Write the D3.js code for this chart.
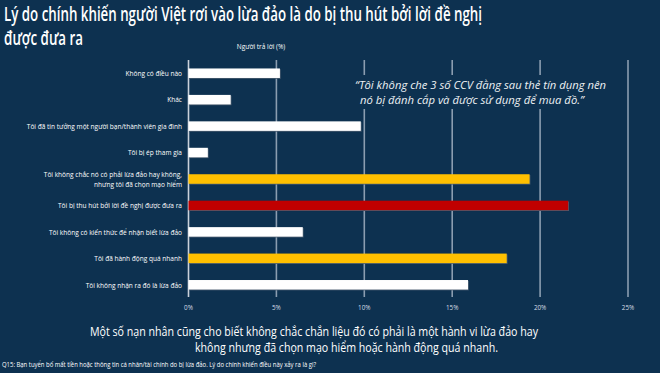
<!DOCTYPE html>
<html>
<head>
<meta charset="utf-8">
<script src="https://cdn.jsdelivr.net/npm/d3@7"></script>
<style>
  body { margin: 0; background: #0d3150; }
  svg { display: block; font-family: "Open Sans", sans-serif; }
</style>
</head>
<body>
<div id="chart"></div>
<script>
var categories = [
  "Không có điều nào",
  "Khác",
  "Tôi đã tin tưởng một người bạn/thành viên gia đình",
  "Tôi bị ép tham gia",
  "Tôi không chắc nó có phải lừa đảo hay không,|nhưng tôi đã chọn mạo hiểm",
  "Tôi bị thu hút bởi lời đề nghị được đưa ra",
  "Tôi không có kiến thức để nhận biết lừa đảo",
  "Tôi đã hành động quá nhanh",
  "Tôi không nhận ra đó là lừa đảo"
];
var values = [5.2, 2.4, 9.8, 1.1, 19.4, 21.6, 6.5, 18.1, 15.9];
var highlight = ["white", "white", "white", "white", "yellow", "red", "white", "yellow", "white"];
var ticks = [0, 5, 10, 15, 20, 25];

var title = ["Lý do chính khiến người Việt rơi vào lừa đảo là do bị thu hút bởi lời đề nghị", "được đưa ra"];
var axisTitle = "Người trả lời (%)";
var quote = ["“Tôi không che 3 số CCV đằng sau thẻ tín dụng nên", "nó bị đánh cắp và được sử dụng để mua đồ.”"];
var note = ["Một số nạn nhân cũng cho biết không chắc chắn liệu đó có phải là một hành vi lừa đảo hay", "không nhưng đã chọn mạo hiểm hoặc hành động quá nhanh."];
var footnote = "Q15: Bạn tuyển bố mất tiền hoặc thông tin cá nhân/tài chính do bị lừa đảo. Lý do chính khiến điều này xảy ra là gì?";

var colors = { white: "#ffffff", yellow: "#ffc000", red: "#c00000" };

var width = 660, height = 373;
var svg = d3.select("#chart").append("svg")
    .attr("width", width)
    .attr("height", height);

svg.append("rect").attr("width", width).attr("height", height).attr("fill", "#0d3150");

// squeeze text a bit so it reads like the narrow original font
function condense(sel, k) {
  sel.each(function() {
    var w = this.getComputedTextLength();
    d3.select(this).attr("textLength", w * k).attr("lengthAdjust", "spacingAndGlyphs");
  });
}
function fitTo(sel, w) {
  sel.attr("textLength", w).attr("lengthAdjust", "spacingAndGlyphs");
}

var x = d3.scaleLinear().domain([0, 25]).range([188.5, 628]);
var y = d3.scaleBand().domain(categories).range([60, 298]).paddingInner(0.64).paddingOuter(0.32);

// gridlines
svg.append("g").selectAll("line")
    .data(ticks)
    .enter().append("line")
    .attr("x1", function(d) { return x(d); })
    .attr("x2", function(d) { return x(d); })
    .attr("y1", 60)
    .attr("y2", 297)
    .attr("stroke", function(d) { return d === 0 ? "#c9d1da" : "#8b9db0"; })
    .attr("stroke-width", 1.6);

// tick labels
svg.append("g").selectAll("text")
    .data(ticks)
    .enter().append("text")
    .attr("x", function(d) { return x(d); })
    .attr("y", 310)
    .attr("text-anchor", "middle")
    .attr("fill", "#d6dde5")
    .attr("font-size", 7)
    .text(function(d) { return d + "%"; })
    .call(condense, 0.9);

// bars
var bars = svg.append("g");
bars.selectAll("rect.shadow")
    .data(categories)
    .enter().append("rect")
    .attr("class", "shadow")
    .attr("x", x(0) + 0.8)
    .attr("y", function(d) { return y(d) + 0.8; })
    .attr("width", function(d, i) { return x(values[i]) - x(0); })
    .attr("height", y.bandwidth())
    .attr("fill", "#4a5d70");
bars.selectAll("rect.bar")
    .data(categories)
    .enter().append("rect")
    .attr("class", "bar")
    .attr("x", x(0))
    .attr("y", function(d) { return y(d); })
    .attr("width", function(d, i) { return x(values[i]) - x(0); })
    .attr("height", y.bandwidth())
    .attr("fill", function(d, i) { return colors[highlight[i]]; });

// category labels
var labels = svg.append("g").selectAll("text")
    .data(categories)
    .enter().append("text")
    .attr("text-anchor", "end")
    .attr("fill", "#ffffff")
    .attr("font-size", 7.6)
    .attr("y", function(d) { return y(d) + y.bandwidth() / 2 + 2.8; });

labels.each(function(d) {
  var parts = d.split("|");
  var t = d3.select(this);
  parts.forEach(function(p, j) {
    t.append("tspan")
      .attr("x", 182)
      .attr("dy", j === 0 ? -(parts.length - 1) * 5 : 10)
      .text(p);
  });
});
labels.selectAll("tspan").call(condense, 0.86);

// axis title
svg.append("text")
    .attr("x", 261)
    .attr("y", 48.5)
    .attr("text-anchor", "middle")
    .attr("fill", "#ffffff")
    .attr("font-size", 7.4)
    .text(axisTitle)
    .call(condense, 0.88);

// title
svg.append("g").selectAll("text")
    .data(title)
    .enter().append("text")
    .attr("x", 4)
    .attr("y", function(d, i) { return 20.5 + i * 24.5; })
    .attr("fill", "#ffffff")
    .attr("font-size", 19)
    .attr("font-weight", 600)
    .text(function(d) { return d; })
    .each(function(d, i) { d3.select(this).call(fitTo, i === 0 ? 478 : 79); });

// quote box over the gridlines
svg.append("rect")
    .attr("x", 350).attr("y", 75)
    .attr("width", 266).attr("height", 34)
    .attr("fill", "#0d3150");
svg.append("g").selectAll("text")
    .data(quote)
    .enter().append("text")
    .attr("x", function(d, i) { return i === 0 ? 355 : 360; })
    .attr("y", function(d, i) { return 88.5 + i * 15.5; })
    .attr("fill", "#eef1f4")
    .attr("font-size", 11)
    .attr("font-style", "italic")
    .text(function(d) { return d; })
    .each(function(d, i) { d3.select(this).call(fitTo, i === 0 ? 251 : 224); });

// note under chart
svg.append("g").selectAll("text")
    .data(note)
    .enter().append("text")
    .attr("x", function(d, i) { return i === 0 ? 90 : 195; })
    .attr("y", function(d, i) { return 335.5 + i * 16; })
    .attr("fill", "#ffffff")
    .attr("font-size", 12.6)
    .text(function(d) { return d; })
    .each(function(d, i) { d3.select(this).call(fitTo, i === 0 ? 448 : 303); });

// footnote
svg.append("text")
    .attr("x", 2)
    .attr("y", 367)
    .attr("fill", "#ffffff")
    .attr("font-size", 6.3)
    .text(footnote)
    .call(fitTo, 314);
</script>
</body>
</html>
